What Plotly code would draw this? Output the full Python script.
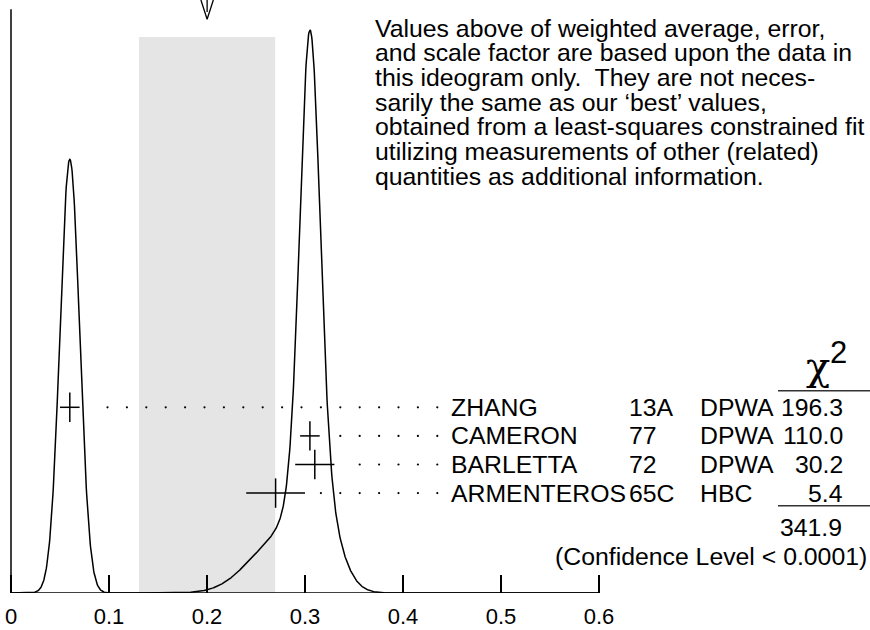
import numpy as np
import plotly.graph_objects as go

# ---------------- data ----------------
names = ["ZHANG", "CAMERON", "BARLETTA", "ARMENTEROS"]
years = ["13A", "77", "72", "65C"]
methods = ["DPWA", "DPWA", "DPWA", "HBC"]
values = [0.06, 0.305, 0.31, 0.27]
errors = [0.01, 0.01, 0.02, 0.03]
chi2_labels = ["196.3", "110.0", "30.2", "5.4"]
chi2_total_label = "341.9"
cl_label = "(Confidence Level < 0.0001)"
tick_vals = [0, 0.1, 0.2, 0.3, 0.4, 0.5, 0.6]
tick_text = ["0", "0.1", "0.2", "0.3", "0.4", "0.5", "0.6"]
note_lines = [
    "Values above of weighted average, error,",
    "and scale factor are based upon the data in",
    "this ideogram only.  They are not neces-",
    "sarily the same as our \u2018best\u2019 values,",
    "obtained from a least-squares constrained fit",
    "utilizing measurements of other (related)",
    "quantities as additional information.",
]

# ---------------- derived (weighted average, scale factor, ideogram) ----------------
v = np.array(values)
e = np.array(errors)
w = 1.0 / e**2
avg = float(np.sum(w * v) / np.sum(w))
err = float(1.0 / np.sqrt(np.sum(w)))
chi2 = float(np.sum(w * (v - avg) ** 2))
S = float(np.sqrt(chi2 / (len(v) - 1)))

xs = np.linspace(0, 0.6, 1501)
ideo = np.zeros_like(xs)
for vi, ei in zip(v, e):
    ideo += (1.0 / ei**2) * np.exp(-0.5 * ((xs - vi) / ei) ** 2)

# ---------------- geometry helpers ----------------
W, H = 870, 630
BOT = 37                 # bottom margin (tick labels)
PH = H - BOT             # plot height in px
PX0, PXU = 11.0, 980.0   # pixel of x=0, pixels per unit x


def px2x(px):
    return (px - PX0) / PXU


def py2f(py):
    return (PH - py) / PH


FONT = "Liberation Sans, Arial, Helvetica, sans-serif"
FS = 24.8
row_py = [407.3, 435.9, 464.5, 493.1]
row_f = [py2f(p) for p in row_py]

fig = go.Figure()

# ideogram curve
fig.add_trace(go.Scatter(x=xs, y=ideo, mode="lines",
                         line=dict(color="black", width=1.5),
                         hoverinfo="skip", showlegend=False))

# dotted leaders
DOT_END = px2x(437.3)
DOT_STEP = 19.4 / PXU
dx_list, dy_list = [], []
for vi, ei, yf in zip(values, errors, row_f):
    xk = DOT_END
    while xk > vi + ei + 0.015:
        dx_list.append(xk)
        dy_list.append(yf)
        xk -= DOT_STEP
fig.add_trace(go.Scatter(x=dx_list, y=dy_list, yaxis="y2", mode="markers",
                         marker=dict(color="black", size=2.2),
                         hoverinfo="skip", showlegend=False))

# measurement crosses
fig.add_trace(go.Scatter(x=values, y=row_f, yaxis="y2", mode="markers",
                         marker=dict(symbol="line-ns-open", size=21, color="black",
                                     line=dict(color="black", width=1.5)),
                         error_x=dict(type="data", array=errors, visible=True,
                                      color="black", thickness=1.5, width=0),
                         hoverinfo="skip", showlegend=False))

# arrow at the weighted average
adx = 6.2 / PXU
fig.add_trace(go.Scatter(x=[avg - adx, avg, avg + adx, None, avg, avg],
                         y=[1.0, py2f(19.3), 1.0, None, 1.0, py2f(12)],
                         yaxis="y2", mode="lines",
                         line=dict(color="black", width=1.3),
                         hoverinfo="skip", showlegend=False))

# explanatory note (one text trace, one point per line)
fig.add_trace(go.Scatter(x=[px2x(375)] * len(note_lines),
                         y=[py2f(30.5 + 24.7 * k) for k in range(len(note_lines))],
                         yaxis="y2", mode="text", text=note_lines,
                         textposition="middle right",
                         textfont=dict(family=FONT, size=FS, color="black"),
                         cliponaxis=False,
                         hoverinfo="skip", showlegend=False))

shapes = []
# scale-factor band
shapes.append(dict(type="rect", xref="x", yref="y2",
                   x0=avg - S * err, x1=avg + S * err, y0=0, y1=py2f(37),
                   fillcolor="#e5e5e5", line=dict(width=0), layer="below"))
# left axis line and baseline
shapes.append(dict(type="line", xref="x", yref="y2", x0=0, x1=0,
                   y0=0, y1=py2f(9.3), line=dict(color="black", width=1.5)))
shapes.append(dict(type="line", xref="x", yref="y2", x0=0, x1=0.6,
                   y0=0, y1=0, line=dict(color="black", width=1.5)))
# chi2 rules
for py in (390.7, 505.7):
    shapes.append(dict(type="line", xref="x", yref="y2", x0=px2x(778),
                       x1=px2x(870), y0=py2f(py), y1=py2f(py),
                       line=dict(color="#333333", width=1.5)))

ann = []


def txt(s, px, py, anchor="left", size=FS, family=FONT):
    ann.append(dict(text=s, x=px2x(px), y=py2f(py), xref="x", yref="y2",
                    xanchor=anchor, yanchor="middle", showarrow=False,
                    font=dict(family=family, size=size, color="black")))


for i in range(len(names)):
    txt(names[i], 449, row_py[i])
    txt(years[i], 627, row_py[i])
    txt(methods[i], 698, row_py[i])
    txt(chi2_labels[i], 845, row_py[i], anchor="right")
txt(chi2_total_label, 844, 527, anchor="right")
txt(cl_label, 869, 556, anchor="right")
txt("\u03c7", 818, 366, anchor="center", size=40,
    family="DejaVu Serif, Liberation Serif, serif")
txt("2", 838, 352, anchor="center", size=31)

fig.update_layout(
    width=W, height=H,
    margin=dict(l=0, r=0, t=0, b=BOT),
    paper_bgcolor="white", plot_bgcolor="white",
    showlegend=False,
    shapes=shapes, annotations=ann,
    xaxis=dict(range=[px2x(0), px2x(W)], tickvals=tick_vals, ticktext=tick_text,
               ticks="inside", ticklen=18, tickwidth=1.5, tickcolor="black",
               ticklabelstandoff=8,
               showline=False, showgrid=False, zeroline=False,
               tickfont=dict(family=FONT, size=22, color="black")),
    yaxis=dict(range=[0, float(ideo.max()) * PH / 563.0], visible=False,
               showgrid=False, zeroline=False),
    yaxis2=dict(range=[0, 1], overlaying="y", visible=False,
                showgrid=False, zeroline=False),
)

fig.write_html("out.html",
               config={"displayModeBar": False},
               post_script="document.body.style.margin='0px';"
                           "document.body.style.overflow='hidden';")
